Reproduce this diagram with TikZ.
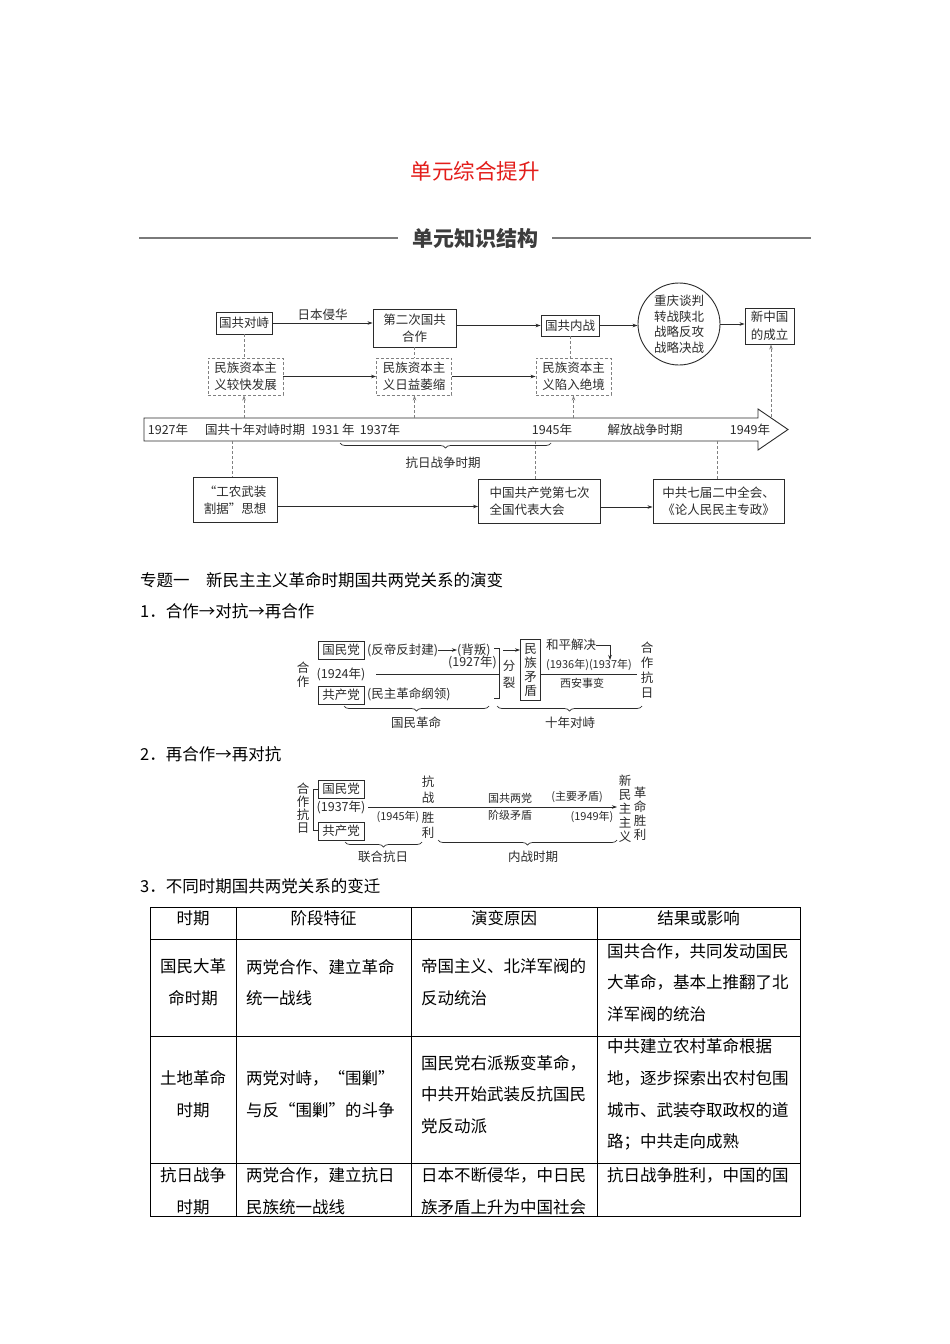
\documentclass[tikz,border=0pt]{standalone}
\usepackage{fontspec}
\setmainfont{Noto Sans CJK SC}
\usetikzlibrary{arrows.meta,positioning,shapes.geometric,decorations.pathreplacing}
\definecolor{titlered}{HTML}{E31D1A}
\definecolor{rulegray}{HTML}{7A7A7A}
\definecolor{headgray}{HTML}{3C3C3C}
\definecolor{ink}{HTML}{2B2B2B}
\newcommand\diagfont{\fontsize{12.5}{17.5}\selectfont}
\newcommand\ringfont{\fontsize{12.5}{15.5}\selectfont}
\newcommand\smallfont{\fontsize{11}{13}\selectfont}
\newcommand\vertfont{\fontsize{12.5}{14}\selectfont}
\newcommand\bodyfont{\fontsize{16.5}{31.7}\selectfont}
\tikzset{
  frame/.style={draw=ink, line width=0.9, inner sep=0, align=center, font=\diagfont, text=ink},
  dashframe/.style={frame, draw=gray, dash pattern=on 3pt off 2pt},
  lbl/.style={inner sep=0, font=\diagfont, text=ink},
  tinylbl/.style={inner sep=0, font=\smallfont, text=ink},
  vert/.style={inner sep=0, align=center, font=\vertfont, text=ink},
  arr/.style={-{Stealth[length=5pt, width=3.5pt]}, line width=0.7, draw=ink},
  dasharr/.style={arr, draw=gray, dash pattern=on 3pt off 2pt},
  dashlink/.style={line width=0.7, draw=gray, dash pattern=on 3pt off 2pt},
  downbrace/.style={decorate, decoration={brace, mirror, amplitude=5pt}, line width=0.7, draw=ink},
  bodytext/.style={inner sep=0, anchor=west, font=\fontsize{16.5}{20}\selectfont},
  cell/.style={inner sep=0, anchor=west, align=left, font=\bodyfont},
  ccell/.style={inner sep=0, align=center, font=\bodyfont},
  grid/.style={line width=0.8, draw=black},
}

\begin{document}
\begin{tikzpicture}[x=1pt, y=-1pt]
  \fill[white] (0,0) rectangle (950,1344);
  \useasboundingbox (0,0) rectangle (950,1344);

  % header
  \node[inner sep=0, font=\fontsize{21.5}{24}\selectfont, text=titlered] (title) at (475,171) {单元综合提升};
  \node[inner xsep=14, inner ysep=0, font=\fontsize{21}{24}\selectfont\bfseries, text=headgray] (head) at (475,238) {单元知识结构};
  \coordinate (ruleL) at (139,238);
  \coordinate (ruleR) at (811,238);
  \draw[rulegray, line width=1.1] (ruleL) -- (head.west);
  \draw[rulegray, line width=1.1] (head.east) -- (ruleR);

  % top row
  \node[frame, minimum width=56, minimum height=22] (dz) at (244,323) {国共对峙};
  \node[frame, minimum width=83, minimum height=38] (hz2) at (414.5,328) {第二次国共\\合作};
  \node[frame, minimum width=58, minimum height=21] (nz) at (570,325.5) {国共内战};
  \node[circle, draw=ink, line width=0.9, minimum size=82, inner sep=0, align=center,
    font=\ringfont, text=ink] (zl) at (679,324) {重庆谈判\\转战陕北\\战略反攻\\战略决战};
  \node[frame, minimum width=49, minimum height=36] (xzg) at (769.5,326) {新中国\\的成立};

  \draw[arr] (dz.east) -- node[lbl, above=2pt] (rbqh) {日本侵华} (dz.east -| hz2.west);
  \draw[arr] (hz2.east |- nz.west) -- (nz.west);
  \draw[arr] (nz.east) -- (nz.east -| zl.west);
  \draw[arr] (zl.east) -- (zl.east -| xzg.west);

  % national capital
  \node[dashframe, minimum width=75, minimum height=37] (ms1) at (245.5,376.5) {民族资本主\\义较快发展};
  \node[dashframe, minimum width=75, minimum height=37] (ms2) at (414,376.5) {民族资本主\\义日益萎缩};
  \node[dashframe, minimum width=75, minimum height=37] (ms3) at (573.5,376.5) {民族资本主\\义陷入绝境};
  \draw[dashlink] (dz.south) -- (dz.south |- ms1.north);
  \draw[dashlink] (hz2.south) -- (hz2.south |- ms2.north);
  \draw[dashlink] (nz.south) -- (nz.south |- ms3.north);
  \draw[arr] (ms1.east) -- (ms2.west);
  \draw[arr] (ms2.east) -- (ms3.west);

  % time line
  \draw[line width=0.9, draw=ink] (144,418) -- (758,418) -- (758,409) -- (788,429.5)
    -- (758,450) -- (758,441) -- (144,441) -- cycle;
  \coordinate (tlt) at (0,418);
  \coordinate (headpt) at (771,417);
  \node[lbl] (y1927) at (168,430) {1927年};
  \node[lbl] (gg10) at (255,430) {国共十年对峙时期};
  \node[lbl] (y1931) at (333,430) {1931 年};
  \node[lbl] (y1937) at (380,430) {1937年};
  \node[lbl] (y1945) at (552,430) {1945年};
  \node[lbl] (jfzz) at (645,430) {解放战争时期};
  \node[lbl] (y1949) at (750,430) {1949年};
  \draw[dasharr] (dz |- tlt) -- (dz |- ms1.south);
  \draw[dasharr] (hz2 |- tlt) -- (hz2 |- ms2.south);
  \draw[dasharr] (ms3 |- tlt) -- (ms3.south);
  \draw[dasharr] (headpt) -- (headpt |- xzg.south);
  \draw[downbrace] (340,443) -- (551,443);
  \node[lbl] (krzz) at (443,463) {抗日战争时期};

  % bottom row
  \node[frame, minimum width=84, minimum height=45, align=left] (gnwz) at (235,500) {“工农武装\\割据”思想};
  \node[frame, minimum width=122, minimum height=44, align=left] (qd) at (539.5,501) {中国共产党第七次\\全国代表大会};
  \node[frame, minimum width=131, minimum height=44, align=left] (ejqz) at (718.5,501) {中共七届二中全会、\\《论人民民主专政》};
  \coordinate (d1) at (232,441);
  \coordinate (d2) at (535,441);
  \coordinate (d3) at (717,441);
  \draw[dashlink] (d1) -- (d1 |- gnwz.north);
  \draw[dashlink] (d2) -- (d2 |- qd.north);
  \draw[dashlink] (d3) -- (d3 |- ejqz.north);
  \coordinate (a1) at ([yshift=-6.5]gnwz.east);
  \coordinate (a2) at ([yshift=-6]qd.east);
  \draw[arr] (a1) -- (a1 -| qd.west);
  \draw[arr] (a2) -- (a2 -| ejqz.west);

  % topic one
  \node[bodytext] (zt1) at (140,580) {专题一\quad 新民主主义革命时期国共两党关系的演变};
  \node[bodytext] (h1) at (140,611) {1．合作→对抗→再合作};

  % diagram 1
  \node[vert] (s1hz) at (303,675) {合\\作};
  \node[frame, minimum width=46, minimum height=18] (s1gmd) at (341,650) {国民党};
  \node[lbl, anchor=west] (s1fd) at (367,650) {(反帝反封建)};
  \node[lbl, anchor=west] (s1bp) at (457,650) {(背叛)};
  \draw[arr] (s1fd.east) -- (s1bp.west);
  \node[lbl, anchor=east] (s1y27) at (497,662) {(1927年)};
  \node[lbl] (s1y24) at (341,674) {(1924年)};
  \node[frame, minimum width=46, minimum height=18] (s1gcd) at (341,695) {共产党};
  \node[lbl, anchor=west] (s1gl) at (367,694) {(民主革命纲领)};
  \coordinate (s1l1) at (376,674);
  \coordinate (s1l2) at (499,674);
  \draw[line width=0.7, draw=ink] (s1l1) -- (s1l2);
  \draw[line width=0.7, draw=ink] (494,648) -- (499,648) -- (499,698) -- (494,698);
  \node[frame, minimum width=20, minimum height=61, font=\vertfont] (s1mz) at (530.5,670) {民\\族\\矛\\盾};
  \coordinate (s1fl) at (503,650);
  \draw[arr] (s1fl) -- (s1fl -| s1mz.west);
  \node[vert, font=\fontsize{12.5}{17}\selectfont] (s1fl2) at (509,674.5) {分\\裂};
  \coordinate (s1l3) at (637,674);
  \draw[line width=0.7, draw=ink] (s1mz.east |- s1l3) -- (s1l3);
  \node[lbl, anchor=west] (s1hp) at (546,645) {和平解决};
  \coordinate (s1hpc) at (610,645);
  \draw[arr] (s1hp.east) -- (s1hpc) -- ++(0,15);
  \node[tinylbl] (s1yy) at (589,665) {(1936年)(1937年)};
  \node[tinylbl] (s1xa) at (582,683) {西安事变};
  \node[vert, font=\fontsize{12.5}{15}\selectfont] (s1hzkr) at (647,670) {合\\作\\抗\\日};
  \draw[downbrace] (344,706) -- (489,706);
  \node[lbl] (s1gmgm) at (416,723) {国民革命};
  \draw[downbrace] (497,706) -- (642,706);
  \node[lbl] (s1sndz) at (570,723) {十年对峙};

  \node[bodytext] (h2) at (140,754) {2．再合作→再对抗};

  % diagram 2
  \node[vert, font=\fontsize{12.5}{13}\selectfont] (s2hzkr) at (303,808) {合\\作\\抗\\日};
  \draw[line width=0.7, draw=ink] (318,789) -- (313,789) -- (313,830) -- (318,830);
  \node[frame, minimum width=46, minimum height=18] (s2gmd) at (341,789) {国民党};
  \node[lbl] (s2y37) at (341,807) {(1937年)};
  \node[frame, minimum width=46, minimum height=18] (s2gcd) at (341,831) {共产党};
  \coordinate (s2a) at (368,807);
  \coordinate (s2b) at (617,807);
  \draw[arr] (s2a) -- (s2b);
  \node[tinylbl] (s2y45) at (398,817) {(1945年)};
  \node[vert, font=\fontsize{12.5}{16}\selectfont] (s2kz) at (428,790) {抗\\战};
  \node[vert, font=\fontsize{12.5}{15}\selectfont] (s2sl) at (428,825.5) {胜\\利};
  \node[tinylbl] (s2lj1) at (510,798) {国共两党};
  \node[tinylbl] (s2lj2) at (510,815) {阶级矛盾};
  \node[tinylbl] (s2zy) at (577,797) {(主要矛盾)};
  \node[tinylbl] (s2y49) at (592,817) {(1949年)};
  \node[vert] (s2xmz) at (625,808.5) {新\\民\\主\\主\\义};
  \node[vert] (s2gmsl) at (640,813.5) {革\\命\\胜\\利};
  \draw[downbrace] (345,842) -- (422,842);
  \node[lbl] (s2lhkr) at (383,857) {联合抗日};
  \draw[downbrace] (438,840) -- (617,840);
  \node[lbl] (s2nzsq) at (533,857) {内战时期};

  \node[bodytext] (h3) at (140,886) {3．不同时期国共两党关系的变迁};

  % table
  \draw[grid] (150,907) rectangle (800,1216);
  \foreach \x in {236,411,597} \draw[grid] (\x,907) -- (\x,1216);
  \foreach \y in {939,1036,1163} \draw[grid] (150,\y) -- (800,\y);

  \node[ccell] (th1) at (193,918) {时期};
  \node[ccell] (th2) at (323.5,918) {阶段特征};
  \node[ccell] (th3) at (504,918) {演变原因};
  \node[ccell] (th4) at (698.5,918) {结果或影响};

  \node[ccell] (r1c1) at (193,982.5) {国民大革\\命时期};
  \node[cell] (r1c2) at (246,982.5) {两党合作、建立革命\\统一战线};
  \node[cell] (r1c3) at (421,982.5) {帝国主义、北洋军阀的\\反动统治};
  \node[cell] (r1c4) at (607,982.5) {国共合作，共同发动国民\\大革命，基本上推翻了北\\洋军阀的统治};

  \node[ccell] (r2c1) at (193,1094.5) {土地革命\\时期};
  \node[cell] (r2c2) at (246,1094.5) {两党对峙，“围剿”\\与反“围剿”的斗争};
  \node[cell] (r2c3) at (421,1094.5) {国民党右派叛变革命，\\中共开始武装反抗国民\\党反动派};
  \node[cell] (r2c4) at (607,1094.5) {中共建立农村革命根据\\地，逐步探索出农村包围\\城市、武装夺取政权的道\\路；中共走向成熟};

  \node[ccell] (r3c1) at (193,1191) {抗日战争\\时期};
  \node[cell] (r3c2) at (246,1191) {两党合作，建立抗日\\民族统一战线};
  \node[cell] (r3c3) at (421,1191) {日本不断侵华，中日民\\族矛盾上升为中国社会};
  \node[cell] (r3c4) at (607,1175) {抗日战争胜利，中国的国};
\end{tikzpicture}
\end{document}
